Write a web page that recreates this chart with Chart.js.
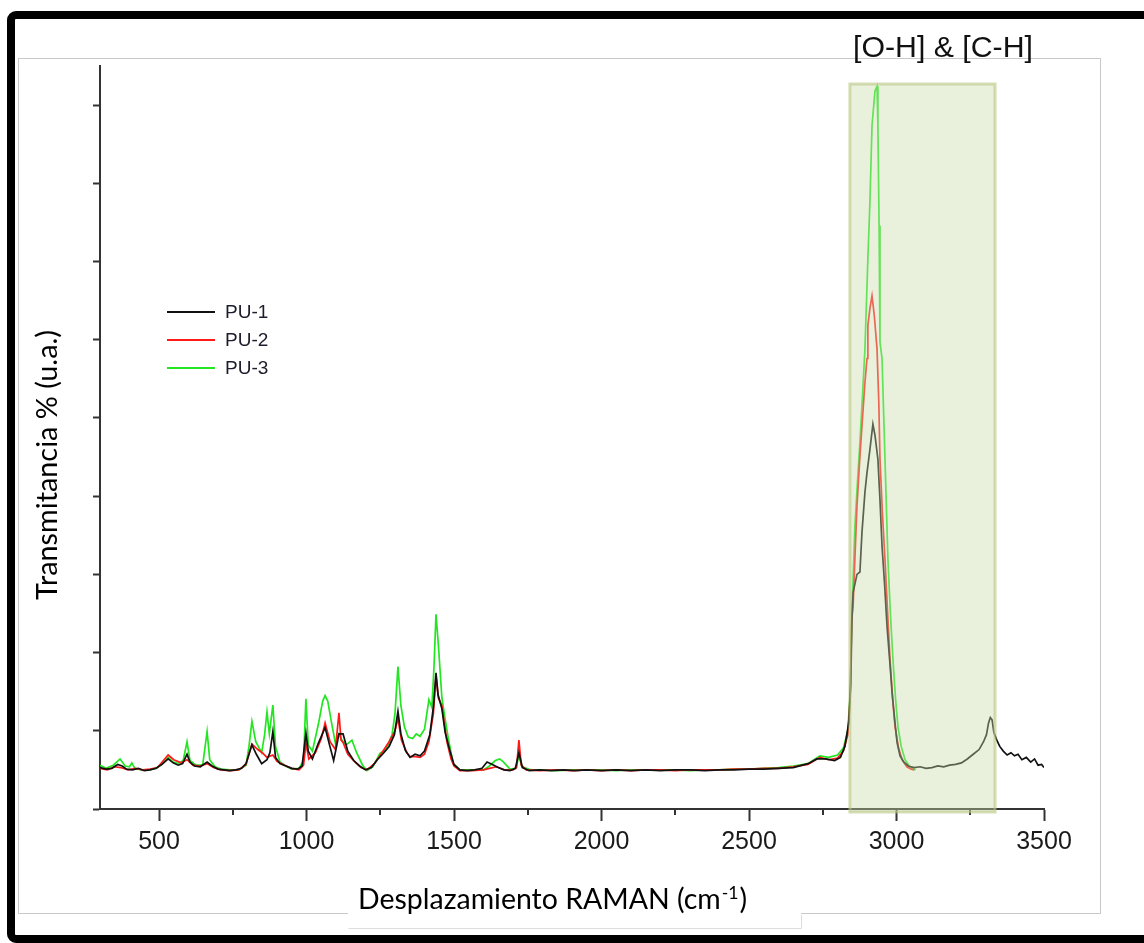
<!DOCTYPE html>
<html>
<head>
<meta charset="utf-8">
<title>Espectro RAMAN PU</title>
<script src="https://cdn.jsdelivr.net/npm/chart.js@4.4.1/dist/chart.umd.min.js"></script>
<style>
  html, body { margin: 0; padding: 0; background: #fff; }
  canvas { display: block; }
</style>
</head>
<body>
<canvas id="ramanChart" width="1144" height="943"></canvas>
<script>
// ==================== DATOS ====================
const seriesLabels = ['PU-1', 'PU-2', 'PU-3'];
const seriesColors = ['#111111', '#ff1a1a', '#22e622'];

const pu1Wavenumber = [300,320,340,360,375,390,410,430,450,470,490,510,531,548,565,580,595,605,620,640,663,680,700,720,740,760,780,795,815,830,848,866,876,886,895,910,930,950,970,985,998,1006,1020,1040,1063,1078,1092,1102,1110,1124,1140,1160,1180,1200,1220,1240,1260,1280,1298,1310,1320,1335,1351,1368,1385,1400,1418,1430,1439,1446,1459,1470,1485,1500,1520,1545,1570,1595,1612,1630,1650,1670,1690,1708,1720,1732,1755,1790,1830,1870,1910,1950,2000,2050,2100,2150,2200,2250,2300,2350,2400,2450,2500,2550,2600,2650,2700,2730,2760,2790,2810,2825,2838,2845,2849,2853,2866,2876,2883,2893,2900,2910,2920,2927,2937,2944,2951,2960,2968,2978,2985,2995,3002,3012,3025,3040,3060,3080,3100,3120,3140,3160,3180,3200,3220,3240,3260,3280,3295,3305,3312,3318,3324,3330,3340,3350,3362,3375,3388,3400,3412,3425,3440,3455,3468,3480,3492,3500];
const pu1Intensity = [.53,.51,.52,.57,.55,.51,.50,.52,.49,.50,.52,.57,.64,.59,.56,.58,.70,.60,.55,.54,.60,.55,.51,.50,.49,.50,.52,.58,.82,.70,.58,.63,.72,.99,.66,.58,.55,.52,.51,.55,.97,.74,.64,.84,1.04,.82,.62,.80,.96,.96,.74,.62,.55,.50,.53,.63,.71,.80,.95,1.25,.96,.75,.66,.70,.68,.74,.95,1.30,1.74,1.46,1.28,.98,.76,.57,.50,.49,.50,.52,.60,.57,.53,.50,.49,.52,.72,.53,.49,.50,.49,.50,.49,.50,.49,.50,.49,.50,.49,.50,.50,.49,.50,.50,.51,.51,.52,.53,.58,.64,.64,.62,.66,.80,1.10,1.60,2.45,2.77,3.00,3.03,3.54,4.05,4.30,4.60,4.92,4.78,4.47,3.95,3.36,2.85,2.33,1.85,1.49,1.10,.85,.68,.60,.55,.53,.54,.52,.53,.55,.54,.56,.57,.59,.64,.70,.76,.86,.95,1.10,1.17,1.14,.98,.88,.80,.74,.69,.72,.68,.70,.63,.66,.60,.64,.56,.57,.53];

const pu2Wavenumber = [300,325,350,370,395,420,445,470,495,515,531,550,575,595,615,640,663,685,710,740,770,795,815,835,850,866,886,900,925,950,975,990,998,1008,1030,1050,1063,1080,1098,1110,1117,1124,1140,1165,1185,1205,1230,1249,1280,1300,1310,1322,1340,1351,1370,1385,1400,1415,1430,1439,1447,1459,1476,1490,1500,1520,1560,1600,1620,1645,1670,1700,1712,1720,1728,1745,1790,1850,1900,1950,2000,2050,2100,2150,2200,2250,2300,2350,2400,2450,2500,2550,2600,2650,2700,2740,2770,2800,2820,2835,2843,2848,2853,2860,2866,2875,2883,2893,2900,2903,2910,2917,2925,2934,2940,2944,2952,2961,2970,2978,2987,2995,3007,3019,3035,3050,3060];
const pu2Intensity = [.52,.50,.54,.53,.50,.52,.50,.51,.53,.62,.69,.63,.59,.63,.56,.55,.58,.53,.50,.49,.50,.57,.83,.76,.72,.66,.69,.61,.56,.52,.50,.56,.84,.64,.72,.90,1.10,.86,.76,1.23,.88,.85,.70,.60,.53,.50,.58,.68,.86,1.00,1.16,.88,.72,.67,.67,.66,.70,.86,1.22,1.70,1.42,1.32,.86,.64,.55,.49,.49,.50,.52,.54,.50,.50,.53,.88,.56,.50,.49,.50,.49,.50,.49,.50,.49,.50,.50,.49,.50,.50,.50,.51,.51,.52,.52,.54,.57,.66,.63,.65,.74,.95,1.40,2.40,2.60,3.30,3.87,4.45,4.90,5.45,5.76,6.18,6.40,6.56,6.30,5.88,5.20,4.47,3.80,3.19,2.50,1.91,1.40,1.05,.78,.63,.54,.51,.50];

const pu3Wavenumber = [300,320,345,368,385,400,408,418,440,465,490,510,531,548,565,582,595,605,625,648,663,672,690,710,740,770,795,805,815,828,848,858,866,874,886,895,910,930,950,975,990,998,1006,1020,1040,1055,1063,1072,1085,1098,1110,1120,1135,1154,1170,1190,1205,1225,1249,1270,1290,1300,1310,1320,1332,1345,1360,1372,1385,1400,1415,1425,1432,1439,1447,1459,1470,1480,1497,1520,1560,1600,1620,1640,1655,1668,1690,1710,1720,1730,1760,1800,1850,1900,1950,2000,2050,2100,2150,2200,2250,2300,2350,2400,2450,2500,2550,2600,2650,2700,2740,2770,2800,2820,2835,2843,2849,2859,2868,2876,2885,2893,2903,2910,2917,2927,2934,2937,2941,2944,2951,2961,2971,2980,2988,2997,3005,3016,3029,3045,3065];
const pu3Intensity = [.56,.52,.56,.64,.55,.54,.59,.52,.50,.50,.52,.57,.66,.60,.58,.62,.86,.62,.56,.56,.99,.63,.54,.51,.50,.50,.56,.80,1.12,.86,.72,.95,1.24,.96,1.33,.80,.60,.55,.51,.52,.62,1.41,.82,.74,1.08,1.38,1.45,1.38,1.10,.84,.96,.88,.82,.88,.72,.56,.49,.54,.71,.76,.95,1.22,1.82,1.32,1.05,.92,.90,.96,.93,1.02,1.40,1.30,1.80,2.49,2.10,1.42,1.15,.92,.58,.50,.50,.50,.55,.62,.64,.60,.51,.52,.68,.54,.50,.50,.49,.50,.50,.50,.49,.50,.50,.50,.50,.49,.50,.50,.51,.51,.52,.53,.55,.58,.68,.66,.69,.78,1.00,1.50,2.51,3.62,4.20,4.69,5.30,5.88,7.04,7.77,8.74,9.18,9.24,8.74,7.46,5.97,5.76,4.47,3.19,2.45,1.91,1.40,1.05,.80,.63,.54,.50];

const xMajorTicks = [500, 1000, 1500, 2000, 2500, 3000, 3500];
const xMinorTicks = [750, 1250, 1750, 2250, 2750, 3250];
const yTicks = [0, 1, 2, 3, 4, 5, 6, 7, 8, 9];

// zona sombreada [O-H] & [C-H]
const shadeFrom = 2842;
const shadeTo = 3334;
const shadeTop = 9.27;
const shadeLabel = '[O-H] & [C-H]';

const xTitle = 'Desplazamiento RAMAN (cm';
const xTitleSup = '-1';
const yTitle = 'Transmitancia % (u.a.)';

// ==================== HELPERS ====================
function toPoints(xs, ys) {
    return xs.map(function(x, i) { return { x: x, y: ys[i] }; });
}

function fitSize(ctx, text, family, weight, target) {
    let size = 30;
    ctx.font = weight + ' ' + size + 'px ' + family;
    const w = ctx.measureText(text).width;
    return size * target / w;
}

const decorPlugin = {
    id: 'decor',
    beforeDraw: function(chart) {
        const ctx = chart.ctx;
        ctx.save();
        ctx.fillStyle = '#ffffff';
        ctx.fillRect(0, 0, chart.width, chart.height);
        // marco interior gris
        ctx.strokeStyle = '#c9c9c9';
        ctx.lineWidth = 1;
        ctx.strokeRect(18.5, 58.5, 1082, 855);
        // marco negro exterior
        ctx.strokeStyle = '#000';
        ctx.lineWidth = 8;
        ctx.beginPath();
        ctx.roundRect(11, 15, 1150, 924, 5);
        ctx.stroke();
        ctx.restore();
    },
    afterDraw: function(chart) {
        const ctx = chart.ctx;
        const xs = chart.scales.x;
        const ys = chart.scales.y;
        const area = chart.chartArea;
        ctx.save();

        // ticks menores eje x
        ctx.strokeStyle = '#333';
        ctx.lineWidth = 2;
        xMinorTicks.forEach(function(v) {
            const px = Math.round(xs.getPixelForValue(v));
            ctx.beginPath();
            ctx.moveTo(px, area.bottom);
            ctx.lineTo(px, area.bottom + 6);
            ctx.stroke();
        });

        // zona sombreada (semi-transparente, por encima de las curvas)
        const x0 = xs.getPixelForValue(shadeFrom);
        const x1 = xs.getPixelForValue(shadeTo);
        const y0 = ys.getPixelForValue(shadeTop);
        const y1 = area.bottom + 3;
        ctx.fillStyle = 'rgba(200, 220, 170, 0.4)';
        ctx.fillRect(x0, y0, x1 - x0, y1 - y0);
        ctx.strokeStyle = 'rgba(185, 198, 130, 0.6)';
        ctx.lineWidth = 3;
        ctx.strokeRect(x0, y0, x1 - x0, y1 - y0);

        // etiqueta de la zona
        ctx.fillStyle = '#111';
        ctx.textBaseline = 'alphabetic';
        const fs = fitSize(ctx, shadeLabel, "'Liberation Sans', Arial, sans-serif", '', 180);
        ctx.font = fs + "px 'Liberation Sans', Arial, sans-serif";
        ctx.fillText(shadeLabel, 853, 57);

        // leyenda
        ctx.font = "19px 'Liberation Sans', Arial, sans-serif";
        ctx.textBaseline = 'middle';
        chart.data.datasets.forEach(function(ds, i) {
            const ly = 312 + i * 28;
            ctx.strokeStyle = ds.borderColor;
            ctx.lineWidth = 2;
            ctx.beginPath();
            ctx.moveTo(167, ly);
            ctx.lineTo(215, ly);
            ctx.stroke();
            ctx.fillStyle = '#1c1c2c';
            ctx.fillText(ds.label, 225, ly + 1);
        });

        // titulo eje x con caja blanca
        ctx.fillStyle = '#fff';
        ctx.fillRect(348, 880, 453, 48);
        ctx.strokeStyle = '#dddddd';
        ctx.lineWidth = 1;
        ctx.beginPath();
        ctx.moveTo(348.5, 928.5);
        ctx.lineTo(801.5, 928.5);
        ctx.lineTo(801.5, 915);
        ctx.stroke();

        const fam = "Lato, 'Open Sans', sans-serif";
        const mainSize = fitSize(ctx, xTitle + '  )', fam, '', 385);
        ctx.font = mainSize + 'px ' + fam;
        ctx.fillStyle = '#000';
        ctx.textBaseline = 'alphabetic';
        let tx = 358;
        ctx.fillText(xTitle, tx, 909);
        tx += ctx.measureText(xTitle).width;
        ctx.font = (mainSize * 0.62) + 'px ' + fam;
        ctx.fillText(xTitleSup, tx + 1, 899);
        tx += ctx.measureText(xTitleSup).width + 2;
        ctx.font = mainSize + 'px ' + fam;
        ctx.fillText(')', tx, 909);

        // titulo eje y
        const ySize = fitSize(ctx, yTitle, fam, '', 270);
        ctx.font = ySize + 'px ' + fam;
        ctx.translate(57, 465);
        ctx.rotate(-Math.PI / 2);
        ctx.textAlign = 'center';
        ctx.fillText(yTitle, 0, 0);

        ctx.restore();
    }
};

// ==================== GRAFICA ====================
document.addEventListener('DOMContentLoaded', function() {
    const ctx = document.getElementById('ramanChart');

    new Chart(ctx, {
        type: 'line',
        data: {
            datasets: [
                { label: seriesLabels[0], data: toPoints(pu1Wavenumber, pu1Intensity), borderColor: seriesColors[0] },
                { label: seriesLabels[1], data: toPoints(pu2Wavenumber, pu2Intensity), borderColor: seriesColors[1] },
                { label: seriesLabels[2], data: toPoints(pu3Wavenumber, pu3Intensity), borderColor: seriesColors[2] }
            ]
        },
        options: {
            responsive: false,
            animation: false,
            devicePixelRatio: 1,
            datasets: {
                line: {
                    borderWidth: 1.7,
                    pointRadius: 0,
                    tension: 0,
                    fill: false
                }
            },
            layout: {
                padding: { left: 0, right: 100, top: 66, bottom: 0 }
            },
            plugins: {
                legend: { display: false },
                tooltip: { enabled: false }
            },
            scales: {
                x: {
                    type: 'linear',
                    min: 300,
                    max: 3500,
                    afterBuildTicks: function(scale) {
                        scale.ticks = xMajorTicks.map(function(v) { return { value: v }; });
                    },
                    afterFit: function(scale) {
                        scale.height = 134;
                    },
                    border: { display: true, color: '#333', width: 2 },
                    grid: {
                        drawOnChartArea: false,
                        drawTicks: true,
                        tickLength: 12,
                        tickColor: '#333',
                        tickWidth: 2
                    },
                    ticks: {
                        autoSkip: false,
                        maxRotation: 0,
                        padding: 6,
                        color: '#1a1a1a',
                        font: {
                            family: "'Liberation Sans', Arial, sans-serif",
                            size: 25
                        },
                        callback: function(value) {
                            return String(value);
                        }
                    }
                },
                y: {
                    type: 'linear',
                    min: 0,
                    max: 9.5,
                    afterBuildTicks: function(scale) {
                        scale.ticks = yTicks.map(function(v) { return { value: v }; });
                    },
                    afterFit: function(scale) {
                        scale.width = 100;
                    },
                    border: { display: true, color: '#333', width: 2 },
                    grid: {
                        drawOnChartArea: false,
                        drawTicks: true,
                        tickLength: 7,
                        tickColor: '#333',
                        tickWidth: 2
                    },
                    ticks: {
                        callback: function() { return ''; }
                    }
                }
            }
        },
        plugins: [decorPlugin]
    });
});
</script>
</body>
</html>
